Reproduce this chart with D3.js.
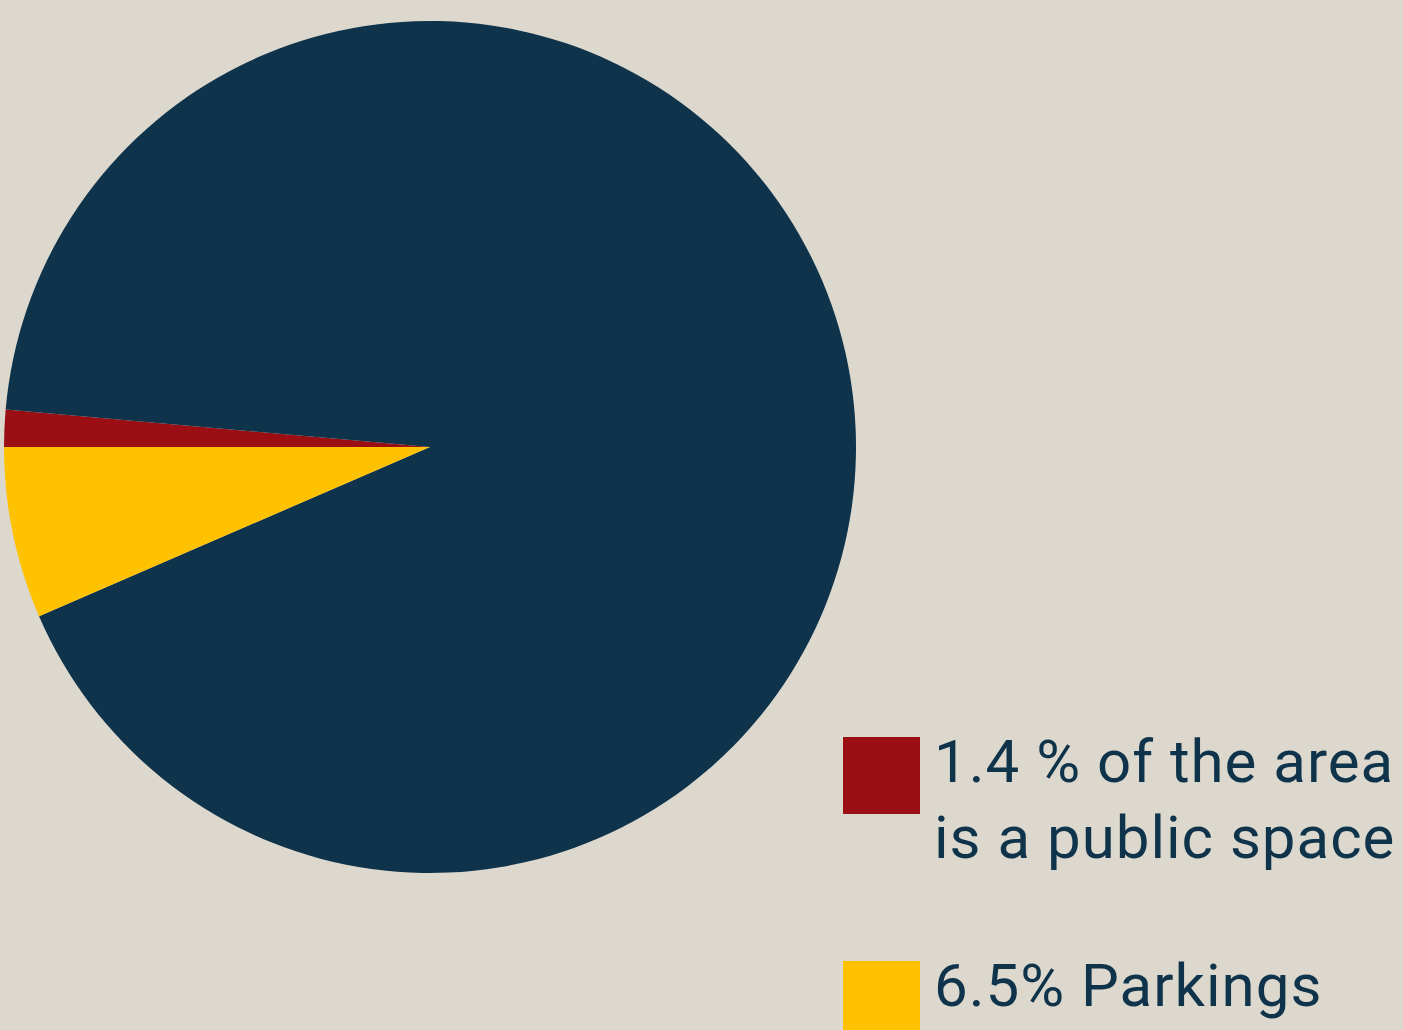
<!DOCTYPE html>
<html>
<head>
<meta charset="utf-8">
<script src="https://cdn.jsdelivr.net/npm/d3@7"></script>
<style>
  html, body { margin: 0; padding: 0; background: #dcd8ce; overflow: hidden; }
  svg { display: block; }
  .legend-text { font-family: "Roboto", "Liberation Sans", sans-serif; font-size: 60px; letter-spacing: 1px; fill: #0e334a; }
</style>
</head>
<body>
<svg width="1403" height="1030"></svg>
<script>
// --- Data ---
const categories = ["Public space", "Other", "Parkings"];
const shares = [1.4, 92.1, 6.5];
const colors = ["#9b0f14", "#0e334a", "#fec200"];
const legendLines = [
  ["1.4 % of the area", "is a public space"],
  ["6.5% Parkings"]
];
const legendColors = ["#9b0f14", "#fec200"];

// --- Setup ---
const svg = d3.select("svg");
const cx = 430, cy = 447, radius = 426;
const g = svg.append("g").attr("transform", `translate(${cx},${cy})`);
const color = d3.scaleOrdinal().domain(categories).range(colors);

// start at 9 o'clock, go clockwise
const pie = d3.pie().sort(null).value(d => d.value)
  .startAngle(1.5 * Math.PI).endAngle(3.5 * Math.PI);
const arc = d3.arc().innerRadius(0).outerRadius(radius);

const data = categories.map((key, i) => ({ key, value: shares[i] }));

g.selectAll("path.slice")
  .data(pie(data))
  .join("path")
  .attr("class", "slice")
  .attr("d", arc)
  .attr("fill", d => color(d.data.key));

// --- Legend ---
const legendY = [737, 961];
const legend = svg.append("g");
legendLines.forEach((lines, i) => {
  const item = legend.append("g").attr("transform", `translate(843,${legendY[i]})`);
  item.append("rect").attr("width", 77).attr("height", 77).attr("fill", legendColors[i]);
  lines.forEach((t, j) => {
    item.append("text").attr("class", "legend-text")
      .attr("x", 91).attr("y", 45 + j * 76)
      .text(t);
  });
});
</script>
</body>
</html>
